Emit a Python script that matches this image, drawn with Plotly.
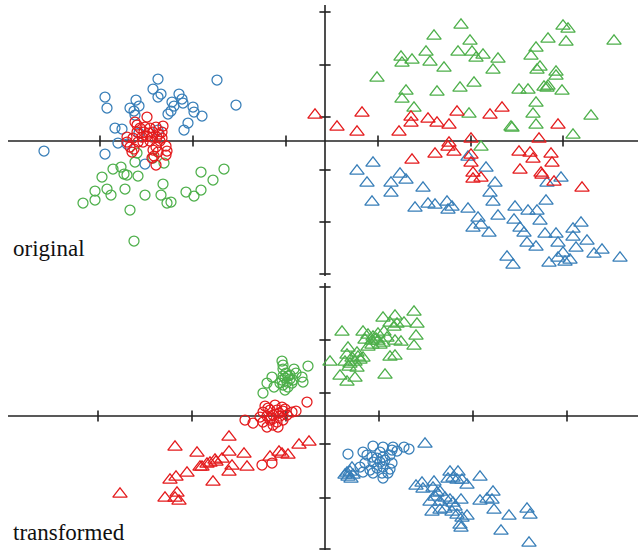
import plotly.graph_objects as go

# ---------------- data (units: arbitrary score units) ----------------
# TOP panel ("original")
ORIG_BLUE_CIRCLES = [(-28.1,-1.0),(-16.7,6.2),(-10.8,6.1),(-22.0,4.4),(-21.8,3.3),(-17.2,5.2),(-16.4,4.7),
    (-16.7,4.4),(-18.9,4.1),(-18.6,3.5),(-19.5,3.3),(-19.1,3.0),(-19.0,2.6),(-14.6,4.7),(-14.3,4.2),(-14.2,3.8),
    (-15.3,3.9),(-15.1,3.5),(-15.4,3.0),(-15.7,2.7),(-13.2,3.4),(-13.1,2.9),(-12.3,2.5),(-8.9,3.6),(-13.7,1.8),
    (-14.1,1.1),(-21.0,1.3),(-20.3,1.2),(-18.6,0.8),(-16.7,1.1),(-20.7,-0.2),(-19.8,-0.3),(-22.0,-1.3),(-18.0,-2.3)]
ORIG_GREEN_CIRCLES = [(-18.8,-1.2),(-19.0,-2.1),(-16.1,-2.2),(-17.2,-1.7),(-21.2,-2.8),(-20.4,-2.6),(-20.1,-3.3),
    (-19.8,-3.4),(-18.7,-3.5),(-22.3,-3.6),(-12.4,-3.1),(-10.1,-2.8),(-11.2,-3.9),(-16.2,-4.3),(-23.0,-5.0),
    (-21.8,-4.8),(-20.0,-4.8),(-21.4,-5.4),(-18.0,-5.4),(-16.4,-5.4),(-13.9,-5.1),(-12.4,-4.9),(-13.1,-5.5),
    (-24.2,-6.2),(-23.0,-5.9),(-15.8,-6.2),(-15.4,-6.1),(-19.5,-6.9),(-19.1,-10.0)]
ORIG_RED_CIRCLES = [(-17.8,2.4),(-19.0,1.9),(-16.2,1.5),(-18.5,1.3),(-18.0,1.4),(-17.5,1.3),(-16.9,1.4),(-18.8,0.9),
    (-18.1,0.9),(-17.6,0.8),(-17.2,0.9),(-16.3,0.9),(-19.8,0.4),(-19.2,0.3),(-18.3,0.4),(-17.8,0.5),(-17.3,0.4),
    (-16.8,0.4),(-16.3,0.3),(-19.8,-0.1),(-18.7,-0.1),(-18.2,-0.1),(-17.5,0.0),(-16.5,0.0),(-19.5,-0.6),(-16.9,-0.6),
    (-15.9,-0.5),(-19.1,-0.8),(-17.2,-0.9),(-15.8,-1.0),(-19.3,-1.1),(-16.7,-1.1),(-17.1,-1.5),(-15.9,-1.4),
    (-17.3,-1.7),(-16.9,-2.4),(-18.8,1.6),(-16.6,0.7)]
ORIG_GREEN_TRIANGLES = [(13.6,11.6),(23.8,11.5),(24.3,11.2),(10.9,10.5),(14.5,10.0),(22.3,10.2),(28.9,10.0),(24.1,9.9),
    (21.1,9.3),(13.3,8.9),(14.7,8.9),(15.8,8.6),(10.1,8.9),(7.6,8.4),(8.7,8.1),(7.7,7.8),(15.1,8.3),(17.3,8.2),
    (20.6,8.5),(10.5,7.9),(11.9,7.3),(16.8,7.1),(21.5,7.4),(21.2,7.1),(23.1,6.9),(23.1,6.5),(5.2,6.3),(14.9,5.8),
    (13.5,5.3),(11.2,4.9),(8.1,5.0),(7.7,4.2),(19.4,5.1),(20.3,5.1),(21.9,5.4),(22.3,5.5),(22.2,5.3),(23.7,5.0),
    (21.1,3.8),(8.9,3.3),(14.4,2.7),(20.8,2.7),(26.6,2.5),(18.6,1.4),(18.7,1.3),(21.1,1.6),(24.8,0.6),(15.6,-0.6)]
ORIG_RED_TRIANGLES = [(-1.0,2.6),(1.2,1.4),(3.2,0.9),(3.7,2.8),(7.4,0.9),(8.6,2.4),(8.6,1.8),(10.3,2.2),(11.2,1.8),
    (12.4,1.6),(13.2,2.9),(16.5,2.6),(17.7,3.3),(23.3,1.6),(21.4,0.2),(14.6,0.2),(12.4,-0.2),(12.3,-0.6),(12.9,-1.1),
    (14.6,-1.4),(14.6,-2.2),(11.0,-1.3),(8.7,-1.9),(19.4,-1.1),(20.5,-1.2),(20.8,-1.8),(22.6,-1.3),(22.7,-2.2),
    (19.5,-2.9),(21.6,-3.2),(21.7,-3.4),(14.8,-3.2),(14.8,-3.8),(15.6,-3.7),(22.9,-4.1),(25.7,-4.7)]
ORIG_BLUE_TRIANGLES = [(3.2,-3.0),(4.8,-2.2),(4.2,-4.2),(4.7,-6.1),(6.6,-4.2),(6.6,-5.2),(7.5,-3.3),(8.1,-3.9),
    (9.8,-4.7),(9.0,-6.7),(10.3,-6.3),(11.0,-6.4),(12.2,-6.1),(12.3,-6.9),(12.7,-6.6),(14.3,-1.6),(14.3,-6.8),
    (16.1,-2.7),(17.0,-4.2),(16.5,-5.2),(16.8,-6.1),(17.3,-7.5),(15.3,-7.7),(15.6,-8.4),(14.8,-8.7),(16.4,-9.2),
    (19.0,-6.6),(18.9,-7.9),(20.3,-7.0),(21.2,-7.0),(21.5,-8.0),(22.1,-6.0),(19.5,-8.7),(19.9,-9.2),(20.2,-10.2),
    (21.1,-10.6),(22.2,-4.2),(23.6,-3.7),(22.0,-9.3),(23.1,-9.3),(23.3,-10.2),(24.8,-8.8),(25.6,-8.2),(24.8,-9.6),
    (26.2,-10.0),(25.1,-10.7),(23.8,-11.2),(23.3,-11.7),(24.5,-11.9),(24.0,-12.1),(22.4,-12.2),(27.7,-10.9),
    (26.9,-11.3),(29.5,-11.7),(18.2,-11.6),(18.8,-12.4)]

# BOTTOM panel ("transformed")
TRANS_GREEN_CIRCLES = [(-4.3,5.5),(-4.2,5.1),(-4.2,4.7),(-1.7,5.0),(-3.1,4.7),(-2.9,4.3),(-2.3,3.9),(-2.2,3.4),
    (-3.7,4.0),(-5.3,3.9),(-5.8,3.3),(-5.1,2.9),(-6.2,2.3),(-4.3,3.6),(-4.0,3.8),(-3.8,3.4),(-3.5,3.7),(-4.2,3.1),
    (-3.7,2.9),(-4.0,2.6),(-3.3,3.3),(-4.5,3.3),(-3.2,3.6),(-4.2,4.0),(-3.5,4.1),(-3.9,4.3)]
TRANS_RED_CIRCLES = [(-1.8,1.4),(-2.9,0.5),(-8.0,-0.4),(-7.2,-0.7),(-6.0,1.0),(-5.0,1.1),(-4.3,0.9),(-6.2,0.4),
    (-5.5,0.6),(-4.8,0.6),(-4.2,0.5),(-6.5,-0.1),(-5.8,0.0),(-5.2,0.1),(-4.5,0.0),(-3.8,0.1),(-6.2,-0.6),(-5.5,-0.4),
    (-4.8,-0.6),(-4.2,-0.4),(-5.8,-1.1),(-5.2,-0.9),(-4.7,-1.1),(-6.3,-4.9),(-5.3,-4.7),(-5.7,0.8),(-4.6,0.3),
    (-5.4,-0.2),(-4.0,0.7),(-3.3,0.4)]
TRANS_BLUE_CIRCLES = [(2.3,-3.8),(3.8,-3.6),(4.8,-3.0),(5.8,-3.1),(6.8,-3.1),(7.9,-3.1),(8.4,-3.3),(4.2,-3.9),
    (4.7,-4.1),(5.2,-4.2),(5.8,-4.1),(6.5,-3.9),(7.2,-3.5),(6.7,-3.4),(5.5,-3.6),(4.0,-4.7),(4.8,-4.6),(5.5,-4.6),
    (6.0,-4.4),(6.7,-4.7),(4.5,-5.4),(5.2,-5.2),(5.8,-5.1),(6.5,-5.3),(3.8,-5.6),(4.8,-5.7),(5.7,-5.7),(6.3,-5.7),
    (5.8,-6.2),(3.5,-5.1)]
TRANS_RED_TRIANGLES = [(-9.6,-2.1),(-1.6,-2.6),(-2.6,-2.9),(-15.0,-3.1),(-12.8,-3.7),(-9.6,-3.6),(-8.1,-3.8),
    (-4.6,-3.6),(-5.5,-4.1),(-4.3,-3.8),(-3.7,-3.9),(-11.0,-4.4),(-10.3,-4.3),(-11.8,-4.8),(-11.5,-4.7),(-12.5,-5.1),
    (-12.3,-5.1),(-10.9,-4.6),(-9.3,-5.0),(-9.6,-5.6),(-7.8,-5.1),(-13.8,-5.7),(-14.9,-6.1),(-15.5,-6.4),
    (-11.2,-6.6),(-20.5,-7.8),(-16.0,-8.2),(-14.8,-7.7),(-15.0,-8.2),(-14.6,-8.5)]
TRANS_GREEN_TRIANGLES = [(8.9,10.4),(7.0,10.0),(5.8,9.8),(7.9,9.3),(9.2,9.2),(7.2,9.2),(6.9,8.9),(6.5,9.3),(1.7,8.4),
    (3.8,8.4),(4.3,8.1),(4.8,7.9),(5.3,8.2),(5.9,8.4),(9.1,8.0),(4.0,7.6),(4.7,7.5),(5.3,7.5),(6.2,7.8),(7.0,7.5),
    (7.6,7.4),(8.9,7.0),(4.3,6.9),(4.7,7.1),(5.5,7.1),(2.3,6.8),(3.2,6.3),(6.5,5.9),(7.0,6.0),(2.2,6.1),(2.7,5.8),
    (3.3,5.9),(3.8,5.8),(0.5,5.4),(2.0,5.4),(2.5,5.2),(3.0,5.4),(3.5,5.6),(2.4,4.9),(3.2,4.8),(6.0,4.1),(1.5,4.0),
    (3.0,3.8),(2.2,3.4),(5.1,7.7),(5.8,7.3)]
TRANS_BLUE_TRIANGLES = [(10.0,-2.8),(2.2,-5.7),(2.5,-5.6),(2.7,-5.2),(2.3,-6.1),(2.0,-5.9),(2.8,-5.9),(2.6,-6.3),
    (12.5,-5.6),(13.3,-5.6),(12.8,-6.2),(12.3,-6.3),(13.2,-6.4),(13.7,-6.4),(14.2,-6.9),(15.5,-6.1),(9.1,-7.0),
    (9.7,-6.7),(9.8,-7.3),(10.9,-6.6),(10.8,-7.2),(11.2,-7.7),(11.5,-7.6),(11.0,-8.1),(10.5,-8.6),(11.5,-8.6),
    (12.0,-8.2),(12.5,-8.4),(12.8,-8.7),(13.6,-8.4),(10.7,-9.6),(11.5,-9.4),(12.0,-9.3),(12.7,-9.6),(13.0,-9.1),
    (13.2,-9.9),(13.7,-10.2),(14.2,-10.0),(13.5,-10.9),(13.6,-11.2),(15.5,-8.5),(16.2,-8.3),(16.8,-7.6),(16.7,-8.4),
    (16.9,-9.4),(18.4,-10.0),(17.6,-11.5),(20.2,-9.3),(20.5,-9.9),(20.4,-12.7)]

# axis tick positions
TOP_XTICKS = [-22.5, -13.2, -3.9, 5.3, 14.6, 23.8]
TOP_YTICKS = [12.9, 7.6, 2.4, -2.9, -8.1, -13.3]
BOT_XTICKS = [-22.7, -13.3, -3.9, 5.4, 14.8, 24.2]
BOT_YTICKS = [12.9, 7.6, 2.3, -2.8, -8.2, -13.3]
PANEL_LABELS = ["original", "transformed"]

# axis extents
X_RANGE = [-32.5, 31.3]
TOP_Y_RANGE = [-13.8, 14.1]
BOT_Y_RANGE = [-13.4, 13.6]
H_LINE_X = [-31.7, 31.3]
TOP_V_LINE_Y = [13.6, -13.5]
BOT_V_LINE_Y = [13.3, -13.4]

BLUE, RED, GREEN = "#377eb8", "#e41a1c", "#4daf4a"
AX_COLOR = "#222222"

fig = go.Figure()


def add_axes(xa, ya, vline_y, xticks, yticks):
    fig.add_trace(go.Scatter(x=H_LINE_X, y=[0, 0], mode="lines", xaxis=xa, yaxis=ya,
                             line=dict(color=AX_COLOR, width=1.6), hoverinfo="skip", showlegend=False))
    fig.add_trace(go.Scatter(x=[0, 0], y=vline_y, mode="lines", xaxis=xa, yaxis=ya,
                             line=dict(color=AX_COLOR, width=1.6), hoverinfo="skip", showlegend=False))
    fig.add_trace(go.Scatter(x=xticks, y=[0] * len(xticks), mode="markers", xaxis=xa, yaxis=ya,
                             marker=dict(symbol="line-ns", size=8, line=dict(color=AX_COLOR, width=1.6)),
                             hoverinfo="skip", showlegend=False))
    fig.add_trace(go.Scatter(x=[0] * len(yticks), y=yticks, mode="markers", xaxis=xa, yaxis=ya,
                             marker=dict(symbol="line-ew", size=8, line=dict(color=AX_COLOR, width=1.6)),
                             hoverinfo="skip", showlegend=False))


def add_points(pts, color, symbol, xa, ya, size):
    xs = [p[0] for p in pts]
    ys = [p[1] for p in pts]
    fig.add_trace(go.Scatter(x=xs, y=ys, mode="markers", xaxis=xa, yaxis=ya, showlegend=False,
                             marker=dict(symbol=symbol, size=size, color=color,
                                         line=dict(color=color, width=1.25))))


add_axes("x", "y", TOP_V_LINE_Y, TOP_XTICKS, TOP_YTICKS)
add_axes("x2", "y2", BOT_V_LINE_Y, BOT_XTICKS, BOT_YTICKS)

CIRC, TRI = "circle-open", "triangle-up-open"
CS, TS = 10, 12.5
# top panel
add_points(ORIG_GREEN_TRIANGLES, GREEN, TRI, "x", "y", TS)
add_points(ORIG_BLUE_TRIANGLES, BLUE, TRI, "x", "y", TS)
add_points(ORIG_RED_TRIANGLES, RED, TRI, "x", "y", TS)
add_points(ORIG_GREEN_CIRCLES, GREEN, CIRC, "x", "y", CS)
add_points(ORIG_BLUE_CIRCLES, BLUE, CIRC, "x", "y", CS)
add_points(ORIG_RED_CIRCLES, RED, CIRC, "x", "y", CS)
# bottom panel
add_points(TRANS_GREEN_TRIANGLES, GREEN, TRI, "x2", "y2", TS)
add_points(TRANS_BLUE_TRIANGLES, BLUE, TRI, "x2", "y2", TS)
add_points(TRANS_RED_TRIANGLES, RED, TRI, "x2", "y2", TS)
add_points(TRANS_GREEN_CIRCLES, GREEN, CIRC, "x2", "y2", CS)
add_points(TRANS_BLUE_CIRCLES, BLUE, CIRC, "x2", "y2", CS)
add_points(TRANS_RED_CIRCLES, RED, CIRC, "x2", "y2", CS)

hidden = dict(showgrid=False, zeroline=False, showticklabels=False, showline=False, ticks="", fixedrange=True)
fig.update_layout(
    width=638, height=550, margin=dict(l=0, r=0, t=0, b=0),
    paper_bgcolor="white", plot_bgcolor="white", showlegend=False,
    xaxis=dict(domain=[0, 1], range=X_RANGE, anchor="y", **hidden),
    yaxis=dict(domain=[1 - 279 / 550, 1], range=TOP_Y_RANGE, anchor="x", **hidden),
    xaxis2=dict(domain=[0, 1], range=X_RANGE, anchor="y2", **hidden),
    yaxis2=dict(domain=[0, 270 / 550], range=BOT_Y_RANGE, anchor="x2", **hidden),
    annotations=[
        dict(text=PANEL_LABELS[0], xref="paper", yref="paper", x=0.018, y=1 - 248 / 550,
             xanchor="left", yanchor="middle", showarrow=False,
             font=dict(family="Liberation Serif, Times New Roman, serif", size=23, color="#111")),
        dict(text=PANEL_LABELS[1], xref="paper", yref="paper", x=0.018, y=1 - 532 / 550,
             xanchor="left", yanchor="middle", showarrow=False,
             font=dict(family="Liberation Serif, Times New Roman, serif", size=23, color="#111")),
    ],
)

fig.write_html("out.html", config={"displayModeBar": False},
               post_script="document.body.style.margin='0';document.body.style.overflow='hidden';")
